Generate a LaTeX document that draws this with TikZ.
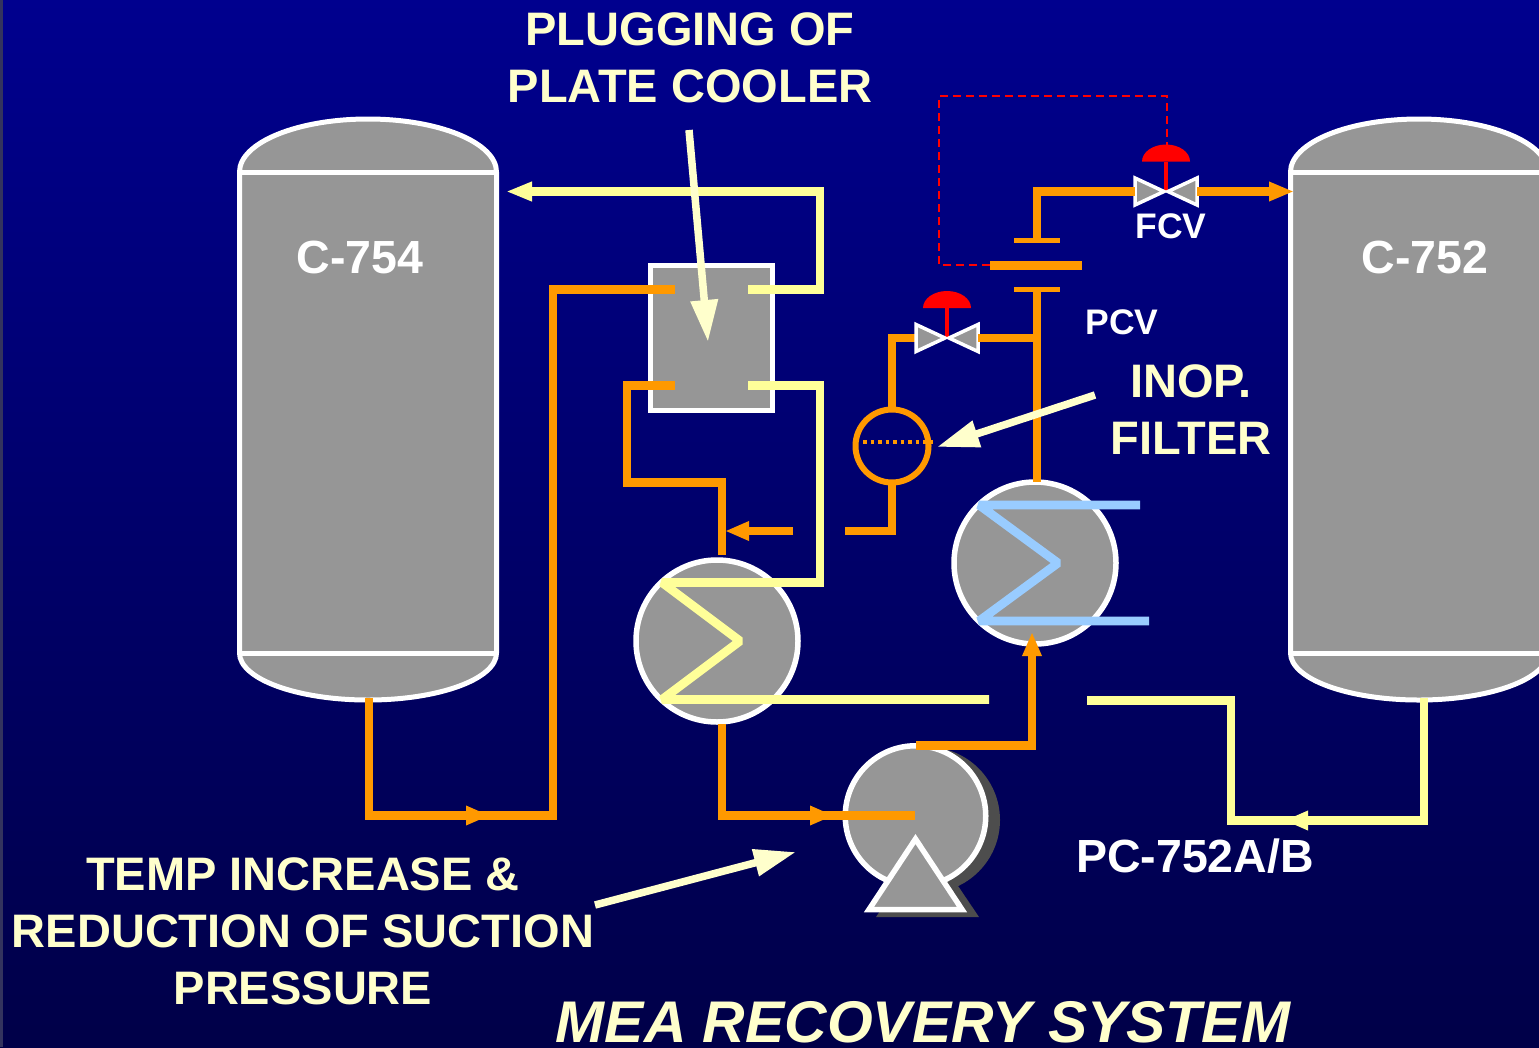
\documentclass[tikz,border=0pt]{standalone}
\usepackage{fontspec}
\setmainfont{Liberation Sans}
\usetikzlibrary{arrows.meta,calc}
\definecolor{bgtop}{RGB}{0,0,142}
\definecolor{bgbot}{RGB}{0,0,72}
\definecolor{eqgray}{RGB}{150,150,150}
\definecolor{shad}{RGB}{77,77,77}
\definecolor{orangep}{RGB}{255,153,0}
\definecolor{yellowp}{RGB}{255,255,153}
\definecolor{paley}{RGB}{255,255,204}
\definecolor{bluep}{RGB}{153,204,255}
\definecolor{redp}{RGB}{255,0,0}
\tikzset{
 x=1pt,y=-1pt,
 equip/.style={fill=eqgray,draw=white,line width=5pt},
 hxc/.style={circle,equip,line width=5.5pt,minimum size=162pt,inner sep=0pt,outer sep=0pt},
 pipeO/.style={draw=orangep,line width=8.7pt,line join=miter},
 pipeY/.style={draw=yellowp,line width=8.7pt,line join=miter},
 pipeB/.style={draw=bluep,line width=8.7pt,line join=bevel},
 midtip/.style={-{Triangle[length=24pt,width=18pt]}},
 callout/.style={draw=paley,line width=7.5pt,-{Triangle[length=42pt,width=26pt]}},
 dashsig/.style={draw=redp,line width=1.8pt,dash pattern=on 8pt off 5pt},
 big/.style={text=paley,font=\fontsize{47}{57}\selectfont\bfseries,align=center,inner sep=0pt},
 vtag/.style={text=white,font=\fontsize{46.5}{56}\selectfont\bfseries,inner sep=0pt},
 small/.style={text=white,font=\fontsize{35.5}{42}\selectfont\bfseries,inner sep=0pt},
}
\begin{document}
\begin{tikzpicture}
\useasboundingbox (0,0) rectangle (1539,1047);
\clip (0,0) rectangle (1539,1047);
\shade[top color=bgtop,bottom color=bgbot] (0,0) rectangle (1539,1047);
\fill[bgbot!60!gray] (0,0) rectangle (3,1047);

% vessels
\path[equip] (239.5,172) arc[start angle=180,end angle=0,x radius=128.5,y radius=-53] -- (496.5,653)
  arc[start angle=0,end angle=-180,x radius=128.5,y radius=-47] -- cycle;
\draw[white,line width=5pt] (239,172) -- (497,172) (239,653) -- (497,653);
\path[equip] (1290.5,172) arc[start angle=180,end angle=0,x radius=128.5,y radius=-53] -- (1547.5,653)
  arc[start angle=0,end angle=-180,x radius=128.5,y radius=-47] -- cycle;
\draw[white,line width=5pt] (1290,172) -- (1548,172) (1290,653) -- (1548,653);
\coordinate (c754out) at (369,698);
\coordinate (c754in) at (506,191.5);
\coordinate (c752in) at (1294,191.5);
\coordinate (c752out) at (1424,698);

% plate cooler
\node[equip,rectangle,minimum width=122pt,minimum height=145pt,inner sep=0pt,outer sep=0pt] (pc) at (711.5,337.5) {};
\coordinate (pcA) at (675,289.5);
\coordinate (pcB) at (748,289.5);
\coordinate (pcC) at (675,385.5);
\coordinate (pcD) at (748,385.5);

% exchangers and pump
\node[hxc] (hx1) at (717,641) {};
\node[hxc] (hx2) at (1035,563) {};
\fill[shad] (927,820) circle[radius=73];
\fill[shad] (927,840) -- (979,917) -- (876,917) -- cycle;
\node[hxc,minimum size=140.5pt] (pump) at (915.5,816) {};
\path[equip,line width=5.5pt,line join=miter] (915.5,839) -- (962,909.5) -- (869,909.5) -- cycle;

% orange process line from C-754
\coordinate (a1) at (369,815.5);
\coordinate (a2) at (553,815.5);
\coordinate (a3) at (553,289.5);
\coordinate (a4) at (465,815.5);
\coordinate (a5) at (490,815.5);
\draw[pipeO] (c754out) -- (a1) -- (a2) -- (a3) -- (pcA);
\draw[pipeO,midtip] (a4) -- (a5);
% yellow from cooler to C-754
\coordinate (b1) at (820,289.5);
\coordinate (b2) at (820,191.5);
\draw[pipeY] (pcB) -- (b1) -- (b2) -- (540,191.5);
\draw[pipeY,-{Triangle[length=26pt,width=18pt]}] (600,191.5) -- (c754in);
% yellow cooler to exchanger
\coordinate (y1) at (820,385.5);
\coordinate (y2) at (820,582.5);
\coordinate (y3) at (662,582.5);
\coordinate (y4) at (740,641);
\coordinate (y5) at (662,699.5);
\coordinate (y6) at (989,699.5);
\draw[pipeY] (pcD) -- (y1) -- (y2) -- (700,582.5);
\draw[pipeY,line join=bevel] (700,582.5) -- (y3) -- (y4) -- (y5) -- (y6);
% orange cooler to exchanger
\coordinate (o1) at (627,385.5);
\coordinate (o2) at (627,482.5);
\coordinate (o3) at (722,482.5);
\coordinate (o4) at (722,555);
\draw[pipeO] (pcC) -- (o1) -- (o2) -- (o3) -- (o4);
\coordinate (j1) at (793,531);
\coordinate (j2) at (725,531);
\draw[pipeO,-{Triangle[length=24pt,width=18pt]}] (j1) -- (j2);
% filter line
\coordinate (f1) at (845,531);
\coordinate (f2) at (892,531);
\coordinate (f3) at (892,338);
\node[circle,draw=orangep,line width=6pt,minimum size=73pt,inner sep=0pt,outer sep=0pt] (filt) at (892,446) {};
\draw[pipeO] (f1) -- (f2) -- (filt.south);
\draw[pipeO] (filt.north) -- (f3) -- (916,338);
\draw[orangep,line width=3.5pt,dash pattern=on 3.5pt off 4pt] (863,442) -- (933,442);
% valves
\coordinate (v1) at (947,338);
\coordinate (v2) at (1166,191.5);
\foreach \v in {v1,v2}{
  \draw[redp,line width=4.5pt] (\v) -- ++(0,-30);
  \fill[redp] ($(\v)+(-24,-30)$) arc[start angle=180,end angle=0,x radius=24,y radius=-17] -- cycle;
  \path[equip,line width=3.5pt,line join=miter] ($(\v)+(-2,0)$) -- ++(-29,-13.5) -- ++(0,27) -- cycle;
  \path[equip,line width=3.5pt,line join=miter] ($(\v)+(2,0)$) -- ++(29,-13.5) -- ++(0,27) -- cycle;
}
% PCV run
\coordinate (r1) at (1037,338);
\coordinate (r2) at (1037,290);
\coordinate (r3) at (1037,482);
\draw[pipeO] (978,338) -- (r1);
\draw[pipeO] (r2) -- (r3);
% orifice
\coordinate (or1) at (1037,241);
\coordinate (or2) at (1037,191.5);
\draw[orangep,line width=5pt] (1014,289.5) -- (1060,289.5);
\draw[orangep,line width=5pt] (1014,240.5) -- (1060,240.5);
\draw[orangep,line width=9pt] (990,265) -- (1082,265);
\draw[pipeO] (or1) -- (or2) -- (1135,191.5);
\draw[pipeO,-{Triangle[length=25pt,width=18pt]}] (1197,191.5) -- (c752in);
% signal line
\coordinate (s1) at (939,265);
\coordinate (s2) at (939,96);
\coordinate (s3) at (1167,96);
\coordinate (s4) at (1167,145);
\draw[dashsig] (990,265) -- (s1) -- (s2) -- (s3) -- (s4);
% blue tube
\coordinate (t1) at (1140,505);
\coordinate (t2) at (979,505);
\coordinate (t3) at (1058,563);
\coordinate (t4) at (979,621);
\coordinate (t5) at (1149,621);
\draw[pipeB] (t1) -- (t2) -- (t3) -- (t4) -- (t5);
% exchanger to pump
\coordinate (p1) at (722,724);
\coordinate (p2) at (722,815.5);
\coordinate (p3) at (915,815.5);
\coordinate (p4) at (808,815.5);
\coordinate (p5) at (834,815.5);
\draw[pipeO] (p1) -- (p2) -- (p3);
\draw[pipeO,midtip] (p4) -- (p5);
% pump discharge
\coordinate (d1) at (916,745.5);
\coordinate (d2) at (1032,745.5);
\coordinate (d3) at (1032,632);
\draw[pipeO] (d1) -- (d2) -- (1032,650);
\draw[pipeO,-{Triangle[length=24pt,width=18pt]}] (1032,660) -- (d3);
% return line
\coordinate (q0) at (1087,700.5);
\coordinate (q1) at (1231,700.5);
\coordinate (q2) at (1231,820.5);
\coordinate (q3) at (1424,820.5);
\coordinate (q4) at (1310,820.5);
\coordinate (q5) at (1284,820.5);
\draw[pipeY] (q0) -- (q1) -- (q2) -- (q3) -- (c752out);
\draw[pipeY,-{Triangle[length=24pt,width=18pt]}] (q4) -- (q5);

% callouts
\coordinate (ca1) at (689,130);
\coordinate (ca2) at (708,342);
\draw[callout] (ca1) -- (ca2);
\coordinate (cb1) at (1095,395);
\coordinate (cb2) at (937,447);
\draw[callout] (cb1) -- (cb2);
\coordinate (cc1) at (595,905);
\coordinate (cc2) at (796,852);
\draw[callout] (cc1) -- (cc2);

% labels
\node[big] (lplug) at (690,58) {PLUGGING OF\\PLATE COOLER};
\node[big] (linop) at (1191,410) {INOP.\\FILTER};
\node[big] (ltemp) at (303,931) {TEMP INCREASE \&\\REDUCTION OF SUCTION\\PRESSURE};
\node[vtag] (l754) at (360,257) {C-754};
\node[vtag] (l752) at (1425,257) {C-752};
\node[small] (lfcv) at (1171,226) {FCV};
\node[small] (lpcv) at (1122,322) {PCV};
\node[vtag] (lpc) at (1195,856) {PC-752A/B};
\node[text=paley,font=\fontsize{58.8}{68}\selectfont\bfseries\itshape,inner sep=0pt] (ltitle) at (923,1022) {MEA RECOVERY SYSTEM};
\end{tikzpicture}
\end{document}
